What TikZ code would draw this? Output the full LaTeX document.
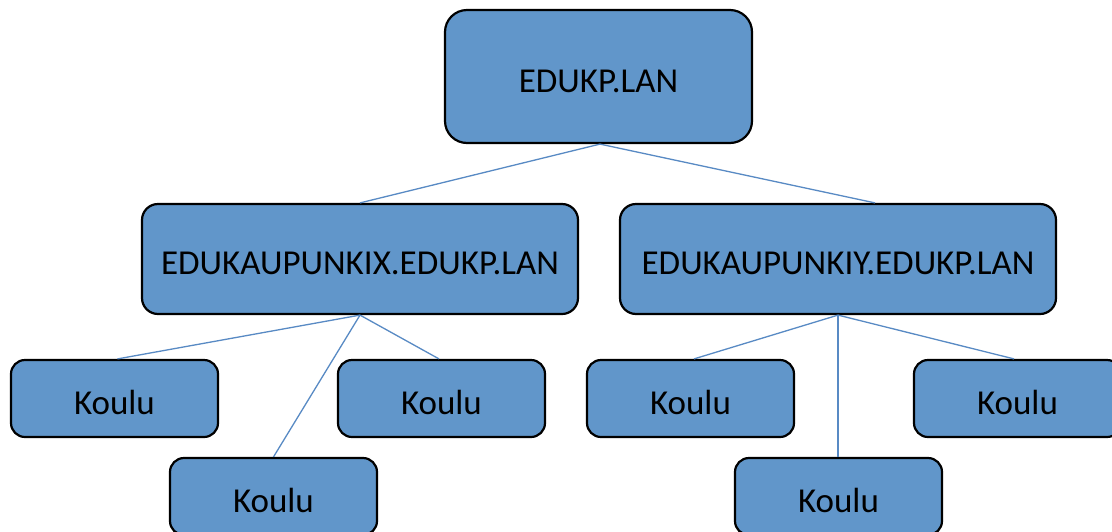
\documentclass[tikz,border=0pt]{standalone}
\usepackage{fontspec}
\setmainfont{Carlito}
\definecolor{boxblue}{RGB}{97,150,202}
\definecolor{linkblue}{RGB}{88,138,196}
\tikzset{
  domain/.style={draw=black, line width=2.2pt, fill=boxblue, rounded corners=#1,
    inner sep=0pt, text height=31pt, text depth=0pt,
    font=\fontsize{35}{40}\selectfont, text=black},
  domain/.default=14pt,
  link/.style={draw=linkblue, line width=1.3pt}
}
\begin{document}
\begin{tikzpicture}[x=1pt, y=-1pt]
  \useasboundingbox[fill=white] (0,0) rectangle (1112,531);

  % forest root
  \node[domain=22pt, minimum width=307pt, minimum height=133pt] (root) at (598.5,76.5) {EDUKP.LAN};

  % child domains
  \node[domain=16pt, minimum width=436pt, minimum height=110pt] (domx) at (360,259) {EDUKAUPUNKIX.EDUKP.LAN};
  \node[domain=16pt, minimum width=436pt, minimum height=110pt] (domy) at (838,259) {EDUKAUPUNKIY.EDUKP.LAN};

  % schools
  \node[domain, minimum width=207pt, minimum height=77pt] (x1) at (114.5,398.5) {Koulu};
  \node[domain, minimum width=207pt, minimum height=77pt] (x2) at (273.5,496.5) {Koulu};
  \node[domain, minimum width=207pt, minimum height=77pt] (x3) at (441.5,398.5) {Koulu};
  \node[domain, minimum width=207pt, minimum height=77pt] (y1) at (690.5,398.5) {Koulu};
  \node[domain, minimum width=207pt, minimum height=77pt] (y2) at (838.5,496.5) {Koulu};
  \node[domain, minimum width=207pt, minimum height=77pt] (y3) at (1017.5,398.5) {Koulu};

  % tree links
  \draw[link] ([xshift=1.5pt]root.south) -- (domx.north);
  \draw[link] ([xshift=1.5pt]root.south) -- ([xshift=37pt]domy.north);
  \draw[link] (domx.south) -- ([xshift=3pt]x1.north);
  \draw[link] (domx.south) -- (x2.north);
  \draw[link] (domx.south) -- ([xshift=-2.5pt]x3.north);
  \draw[link] (domy.south) -- ([xshift=3.5pt]y1.north);
  \draw[link] (domy.south) -- ([xshift=-0.5pt]y2.north);
  \draw[link] (domy.south) -- ([xshift=-3.5pt]y3.north);
\end{tikzpicture}
\end{document}
